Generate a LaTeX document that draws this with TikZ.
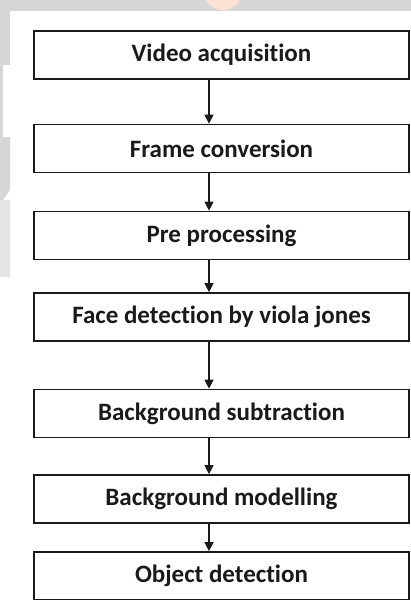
\documentclass[tikz,border=0pt]{standalone}
\usepackage{fontspec}
\setmainfont{Carlito}[Ligatures=NoCommon]
\usepackage{tikz}
\usetikzlibrary{arrows.meta,positioning}
\usepackage{xcolor}
\definecolor{ink}{RGB}{26,26,26}
\definecolor{wmgray}{RGB}{214,214,214}
\definecolor{wmlight}{RGB}{228,228,228}
\definecolor{peach}{RGB}{253,226,212}
\tikzset{
  stage/.style={draw=ink,line width=1.7pt,fill=white,minimum width=375pt,minimum height=48pt,
    inner sep=0pt,font=\fontsize{25}{30}\selectfont\bfseries,text=ink},
  flow/.style={-{Triangle[length=9pt,width=9pt]},line width=1.3pt,ink},
}

\begin{document}
\begin{tikzpicture}[x=1pt,y=-1pt]
\useasboundingbox (0,0) rectangle (411,600);
\clip (0,0) rectangle (411,600);
% watermark remains
\fill[white] (0,0) rectangle (411,600);
\fill[wmgray] (0,0) rectangle (411,11);
\begin{scope}
  \clip (0,0) rectangle (411,11);
  \fill[peach] (223,-9) circle (19);
\end{scope}
\fill[wmgray] (0,0) rectangle (10,65);
\fill[wmgray] (0,65) rectangle (3,137);
\fill[wmgray] (0,137) -- (10,137) -- (10,190) -- (3,200) -- (0,200) -- cycle;
\fill[wmlight] (0,200) -- (3,200) -- (10,200) -- (10,277) -- (0,277) -- cycle;
% stages
\foreach \i/\y/\lab in {1/55/Video acquisition,2/148.5/Frame conversion,3/235.5/Pre processing,
  4/317/Face detection by viola jones,5/413.5/Background subtraction,
  6/499/Background modelling,7/576/Object detection}{
  \node[stage] (s\i) at (221.5,\y) {\lab};
}
\foreach \i/\j in {1/2,2/3,3/4,4/5,5/6,6/7}{
  \draw[flow] ([xshift=-12.5pt]s\i.south) -- ([xshift=-12.5pt]s\j.north);
}
\end{tikzpicture}
\end{document}
